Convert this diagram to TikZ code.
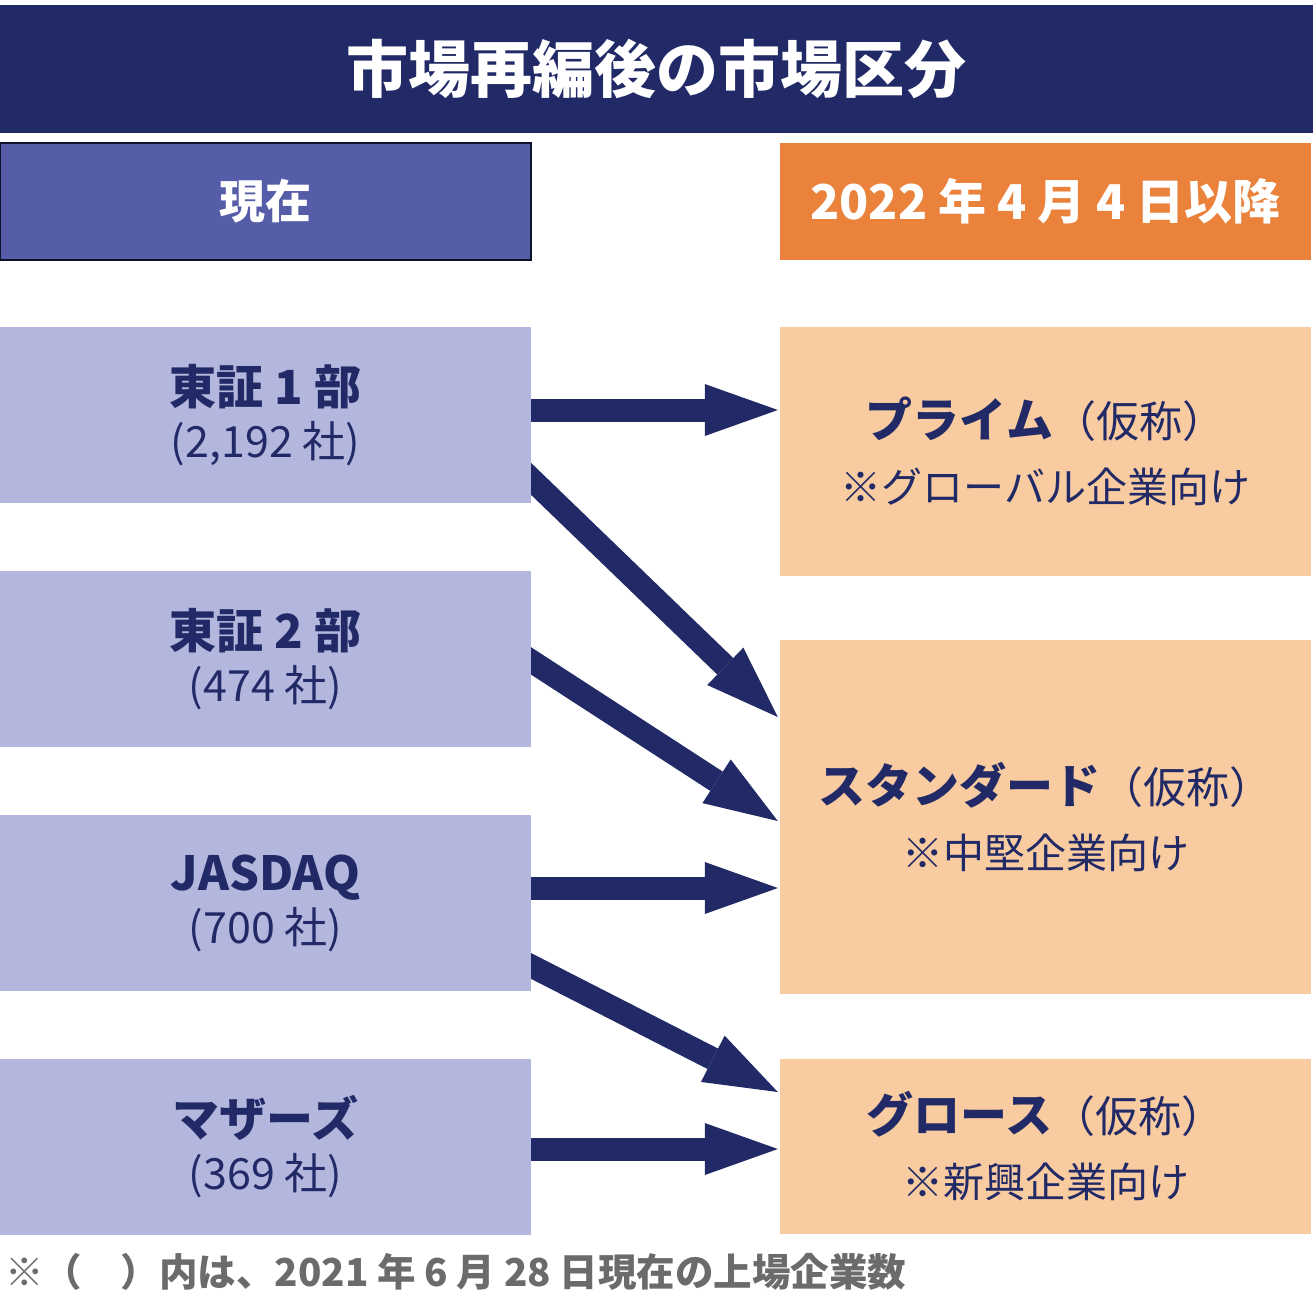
\documentclass[tikz,border=0pt]{standalone}
\usepackage{fontspec}
\setmainfont{Noto Sans CJK JP}
\usetikzlibrary{arrows.meta,backgrounds,positioning}
\definecolor{navy}{HTML}{212A66}
\definecolor{nowblue}{HTML}{555DA8}
\definecolor{lav}{HTML}{B3B7DD}
\definecolor{peach}{HTML}{F8CBA0}
\definecolor{orng}{HTML}{EB823C}
\definecolor{footgray}{HTML}{6B6B6B}
\tikzset{>={Triangle[length=73pt,width=52pt,line width=0pt]}}
\tikzset{head/.style={text=white, minimum width=531pt, minimum height=117pt, inner sep=0pt, font=\bfseries\fontsize{46}{46}\selectfont}}
\tikzset{oldmkt/.style={fill=lav, text=navy, minimum width=531pt, minimum height=176pt, inner sep=0pt, align=center, font=\fontsize{43}{53}\selectfont}}
\tikzset{newmkt/.style={fill=peach, text=navy, minimum width=531pt, inner sep=0pt, align=center, font=\fontsize{41}{65}\selectfont}}
\tikzset{flow/.style={->, draw=navy, line width=23pt, shorten <=-30pt}}

\begin{document}
\begin{tikzpicture}[x=1pt,y=-1pt]
      \useasboundingbox (0,0) rectangle (1313,1307);
      \node[fill=navy, text=white, minimum width=1313pt, minimum height=128pt, inner sep=0pt, font=\bfseries\fontsize{62}{62}\selectfont] (title) at (656.5,69) {市場再編後の市場区分};
      \node[head, fill=nowblue, draw=black!60!navy, line width=1.5pt] (now) at (265.5,201.5) {現在};
      \node[head, fill=orng, font=\bfseries\fontsize{48}{48}\selectfont] (after) at (1045.5,201.5) {2022 年 4 月 4 日以降};
      \node[oldmkt] (l1) at (265.5,415) {{\bfseries\fontsize{47}{53}\selectfont 東証 1 部}\\(2,192 社)};
      \node[oldmkt] (l2) at (265.5,659) {{\bfseries\fontsize{47}{53}\selectfont 東証 2 部}\\(474 社)};
      \node[oldmkt] (l3) at (265.5,903) {{\bfseries\fontsize{47}{53}\selectfont JASDAQ}\\(700 社)};
      \node[oldmkt] (l4) at (265.5,1146.5) {{\bfseries\fontsize{47}{53}\selectfont マザーズ}\\(369 社)};
      \node[newmkt, minimum height=249pt] (r1) at (1045.5,451.5) {{\bfseries\fontsize{47}{65}\selectfont プライム}{\fontsize{43}{65}\selectfont （仮称）}\\※グローバル企業向け};
      \node[newmkt, minimum height=354pt] (r2) at (1045.5,817) {{\bfseries\fontsize{47}{65}\selectfont スタンダード}{\fontsize{43}{65}\selectfont （仮称）}\\※中堅企業向け};
      \node[newmkt, minimum height=175pt] (r3) at (1045.5,1146.5) {{\bfseries\fontsize{47}{65}\selectfont グロース}{\fontsize{43}{65}\selectfont （仮称）}\\※新興企業向け};
      \node[anchor=west, text=footgray, inner sep=0pt, font=\bfseries\fontsize{38.5}{38.5}\selectfont] (note) at (5,1272) {※（　）内は、2021 年 6 月 28 日現在の上場企業数};
      \begin{pgfonlayer}{background}
      \draw[flow] ([yshift=5pt]l1.east) -- ([xshift=-2pt,yshift=41.5pt]r1.west);
      \draw[flow] ([yshift=-64pt]l1.east) -- ([xshift=-2pt,yshift=100pt]r2.west);
      \draw[flow] ([yshift=-2pt]l2.east) -- ([xshift=-2pt,yshift=-4pt]r2.west);
      \draw[flow] ([yshift=15pt]l3.east) -- ([xshift=-2pt,yshift=-71pt]r2.west);
      \draw[flow] ([yshift=-63pt]l3.east) -- ([xshift=-2pt,yshift=54.5pt]r3.west);
      \draw[flow] ([yshift=-2.5pt]l4.east) -- ([xshift=-2pt,yshift=-2.5pt]r3.west);
      \end{pgfonlayer}
\end{tikzpicture}
\end{document}
